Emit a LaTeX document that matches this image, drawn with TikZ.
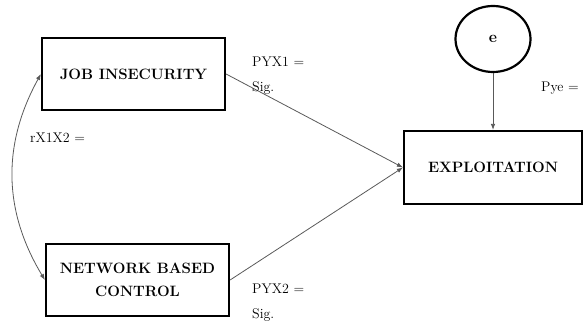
\documentclass[tikz,border=0pt]{standalone}
\usepackage{tikz}
\usetikzlibrary{arrows.meta,shapes.geometric}

\begin{document}
\begin{tikzpicture}[x=1pt, y=1pt, >={Latex[length=6pt,width=4.5pt]},
  box/.style={draw, line width=2.2pt, minimum width=183pt, minimum height=72pt, align=center, font=\fontsize{15}{23}\selectfont\bfseries},
  lab/.style={anchor=west, align=left, inner sep=0pt, font=\fontsize{14}{25}\selectfont},
  link/.style={->, draw=black!65, line width=0.8pt}]
  \useasboundingbox (0,0) rectangle (586,324);
  % variables
  \node[box] (job) at (133.5,250) {JOB INSECURITY};
  \node[box] (net) at (137.5,44) {NETWORK BASED\\ CONTROL};
  \node[box, minimum width=178pt, minimum height=73pt] (expl) at (493,156.5) {EXPLOITATION};
  \node[draw, ellipse, line width=2.2pt, minimum width=75pt, minimum height=66pt, font=\fontsize{16}{18}\selectfont\bfseries] (e) at (493,285) {e};
  % paths
  \draw[link] (job.east) -- (expl.west);
  \draw[link] (net.east) -- (expl.west);
  \draw[link] (e.south) -- (expl.north);
  \draw[link, <->] (job.west) to[bend right=30] (net.west);
  % coefficients
  \node[lab] (p1) at (252,248.5) {PYX1 =\\ Sig.};
  \node[lab] (p2) at (252,21.5) {PYX2 =\\ Sig.};
  \node[lab] (pe) at (541,236) {Pye =};
  \node[lab] (r12) at (30,186) {rX1X2 =};
\end{tikzpicture}
\end{document}
